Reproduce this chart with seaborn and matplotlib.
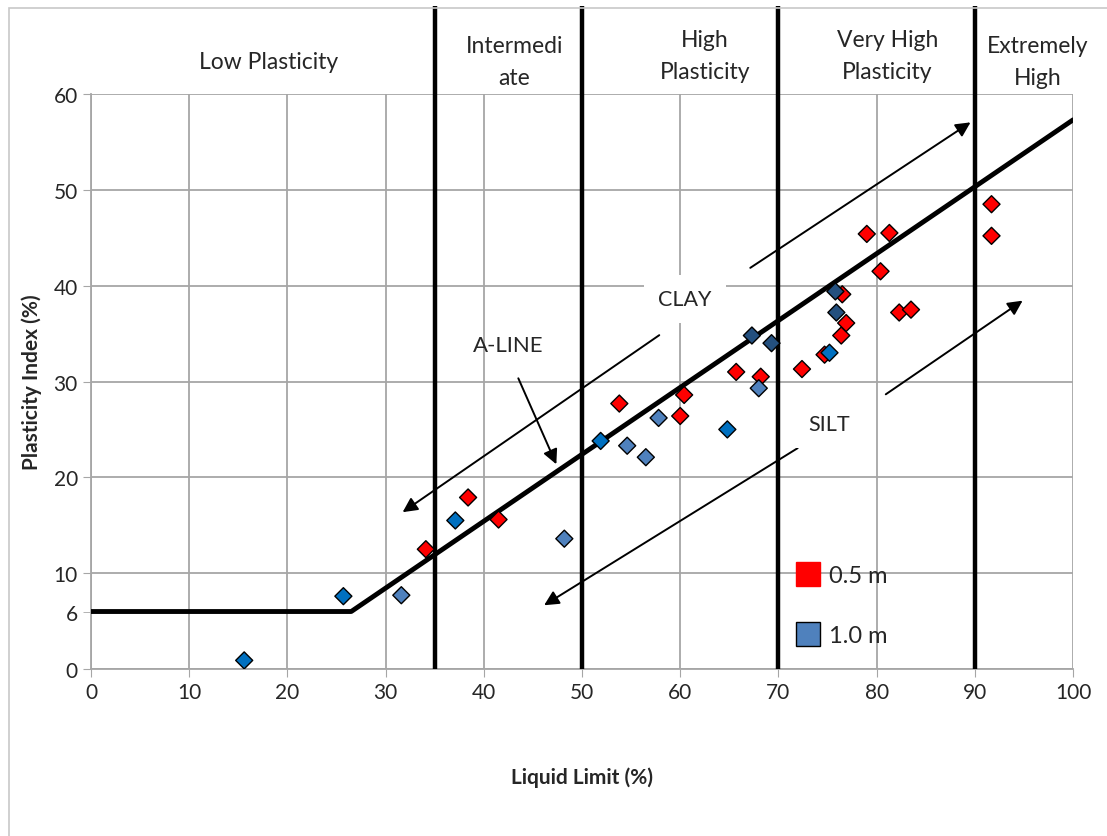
import pandas as pd
import numpy as np
import seaborn as sns
import matplotlib.pyplot as plt
from matplotlib.lines import Line2D
from matplotlib.patches import Rectangle

#------------------------------------------------------------------------------------------------
# Datos (Liquid Limit, Plasticity Index)
ll_05 = [34.1, 38.4, 41.5, 53.8, 60.4, 60.0, 65.7, 68.2, 72.4, 74.7,
         76.4, 76.9, 76.5, 80.4, 79.0, 81.3, 82.3, 83.5, 91.7, 91.7]
pi_05 = [12.5, 17.9, 15.6, 27.7, 28.6, 26.4, 31.0, 30.5, 31.3, 32.8,
         34.8, 36.1, 39.1, 41.5, 45.4, 45.5, 37.2, 37.5, 48.5, 45.2]

ll_10 = [15.6, 25.7, 31.6, 37.1, 48.2, 51.9, 54.6, 56.5, 57.8, 64.8,
         67.3, 69.3, 68.0, 75.2, 75.8, 75.9]
pi_10 = [0.9, 7.6, 7.7, 15.5, 13.6, 23.8, 23.3, 22.1, 26.2, 25.0,
         34.8, 34.0, 29.3, 33.0, 39.4, 37.2]
# tono de azul de cada punto de 1.0 m
tono_10 = ['b1', 'b1', 'b2', 'b1', 'b2', 'b1', 'b2', 'b2', 'b2', 'b1',
           'b3', 'b3', 'b2', 'b1', 'b3', 'b3']

# A-line
aline_x = [0, 26.5, 100]
aline_y = [6, 6, 57.3]

# limites de plasticidad
limites = [35, 50, 70, 90]
zonas = ['Low Plasticity', 'Intermedi\nate', 'High\nPlasticity', 'Very High\nPlasticity', 'Extremely\nHigh']
zonas_x = [18.1, 43.1, 62.5, 81.1, 96.4]
zonas_y = [63.4, 63.4, 64.0, 64.0, 63.4]

x_ticks = [0, 10, 20, 30, 40, 50, 60, 70, 80, 90, 100]
y_ticks = [0, 10, 20, 30, 40, 50, 60]
#------------------------------------------------------------------------------------------------

datos = pd.DataFrame({
    'LL': ll_05 + ll_10,
    'PI': pi_05 + pi_10,
    'serie': ['r'] * len(ll_05) + tono_10,
})
colores = {'r': '#FF0000', 'b1': '#0070C0', 'b2': '#4F81BD', 'b3': '#24507F'}

sns.set_style('white')
plt.rcParams['font.family'] = ['Lato', 'DejaVu Sans']

fig = plt.figure(figsize=(11.07, 8.37), dpi=100)
ax = fig.add_axes([0.0822, 0.1995, 0.8871, 0.687])

# borde gris del area del grafico
fig.patches.append(Rectangle((0.008, -0.01), 1.1, 0.999, transform=fig.transFigure,
                             fill=False, edgecolor='#c8c8c8', lw=1.2))

ax.set_xlim(0, 100)
ax.set_ylim(0, 60)
ax.set_xticks(x_ticks)
ax.set_yticks(y_ticks)
ax.set_yticks([6], minor=True)
ax.set_yticklabels(['6'], minor=True)
ax.grid(True, which='major', color='#a6a6a6', lw=1.3)
ax.tick_params(which='both', labelsize=15, length=6, color='#a6a6a6', direction='out', left=True, bottom=True)
for s in ['top', 'right']:
    ax.spines[s].set_visible(False)
for s in ['left', 'bottom']:
    ax.spines[s].set_color('#a6a6a6')
    ax.spines[s].set_linewidth(1.3)

# A-line
ax.plot(aline_x, aline_y, color='black', lw=3.5, zorder=3)

# lineas verticales de zonas
ax.vlines(limites, 0, 69.2, colors='black', lw=3.2, clip_on=False, zorder=3)

# puntos
sns.scatterplot(data=datos, x='LL', y='PI', hue='serie', palette=colores, marker='D',
                s=75, edgecolor='black', linewidth=1.0, legend=False, ax=ax, zorder=5)

# textos de zonas
for nombre, xz, yz in zip(zonas, zonas_x, zonas_y):
    ax.text(xz, yz, nombre, ha='center', va='center', fontsize=16.5, clip_on=False,
            linespacing=1.65)

# flechas CLAY / SILT
flecha = dict(arrowstyle='-|>', lw=1.4, color='black', mutation_scale=22)
ax.annotate('', xy=(89.8, 57.2), xytext=(66.9, 41.7), arrowprops=flecha, zorder=4)
ax.annotate('', xy=(31.5, 16.2), xytext=(58.1, 35.0), arrowprops=flecha, zorder=4)
ax.annotate('', xy=(95.1, 38.6), xytext=(80.7, 28.5), arrowprops=flecha, zorder=4)
ax.annotate('', xy=(45.9, 6.5), xytext=(72.2, 23.2), arrowprops=flecha, zorder=4)
ax.annotate('', xy=(47.5, 21.1), xytext=(43.4, 30.6), arrowprops=flecha, zorder=4)

caja = dict(facecolor='white', edgecolor='none', pad=10)
ax.text(60.5, 38.6, 'CLAY', ha='center', va='center', fontsize=15.5, bbox=caja, zorder=4)
ax.text(75.2, 25.6, 'SILT', ha='center', va='center', fontsize=15.5, bbox=caja, zorder=4)
ax.text(42.5, 33.8, 'A-LINE', ha='center', va='center', fontsize=16, zorder=4)

# leyenda
handles = [Line2D([], [], marker='s', ls='none', markersize=17, markerfacecolor='#FF0000',
                  markeredgecolor='#FF0000', label='0.5 m'),
           Line2D([], [], marker='s', ls='none', markersize=17, markerfacecolor='#4F81BD',
                  markeredgecolor='black', label='1.0 m')]
ax.legend(handles=handles, loc='upper left', bbox_to_anchor=(0.694, 0.218), frameon=False,
          fontsize=17, labelspacing=1.65, handletextpad=0.3, handlelength=1.2)

ax.set_xlabel('Liquid Limit (%)', fontsize=15, fontweight='bold', labelpad=46)
ax.set_ylabel('Plasticity Index (%)', fontsize=15, fontweight='bold', labelpad=8)

plt.savefig('out.png', dpi=100)
